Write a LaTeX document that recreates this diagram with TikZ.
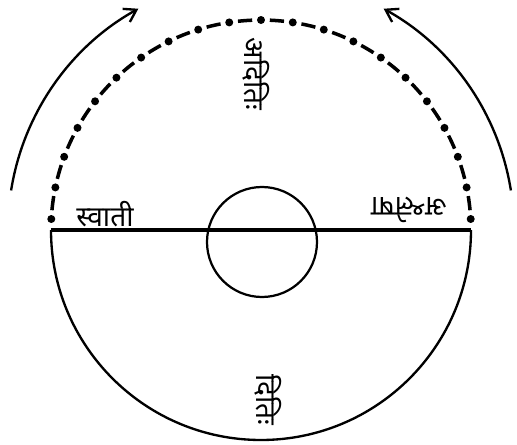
\documentclass[tikz,border=0pt]{standalone}
\usepackage{fontspec}
\newfontfamily\devfont[Script=Devanagari]{Noto Sans}
\usetikzlibrary{arrows.meta}

\begin{document}
\begin{tikzpicture}[x=0.3cm,y=0.3cm]
\useasboundingbox (-26.1,-21.5) rectangle (25.6,23.0);
\tikzset{naam/.style={font=\devfont\bfseries\fontsize{24}{24}\selectfont,inner sep=0pt}}
\coordinate (O) at (0,0);
\coordinate (W) at (-21,0);
\coordinate (E) at (21,0);
% lower half and diameter
\draw[line width=2pt] (W) arc[start angle=180,end angle=360,radius=21];
\draw[line width=3.4pt] (W) -- (E);
\draw[line width=1.9pt] (0.1,-1.2) circle (5.5);
% upper half, dots and dashes
\foreach \i in {0,...,20}
  \fill ({3+\i*8.7}:21) circle (0.4);
\foreach \i in {0,...,19}
  \draw[line width=3pt] ({3+\i*8.7+2.4}:21) arc[start angle={3+\i*8.7+2.4},end angle={3+\i*8.7+6.3},radius=21];
% arrows
\draw[-{Straight Barb[length=3.5mm,width=4.5mm]},line width=2pt] (171:25.3) arc[start angle=171,end angle=119,radius=25.3];
\draw[-{Straight Barb[length=3.5mm,width=4.5mm]},line width=2pt] (9:25.3) arc[start angle=9,end angle=61,radius=25.3];
% names
\node[naam] (svati) at (-15.6,1.6) {स्वाती};
\node[naam,rotate=180] (ashlesha) at (14.8,2.0) {अश्लेषा};
\node[naam,rotate=-90] (aditi) at (-0.5,15.6) {अदितिः};
\node[naam,rotate=-90] (diti) at (0.7,-17.0) {दितिः};
\end{tikzpicture}
\end{document}
